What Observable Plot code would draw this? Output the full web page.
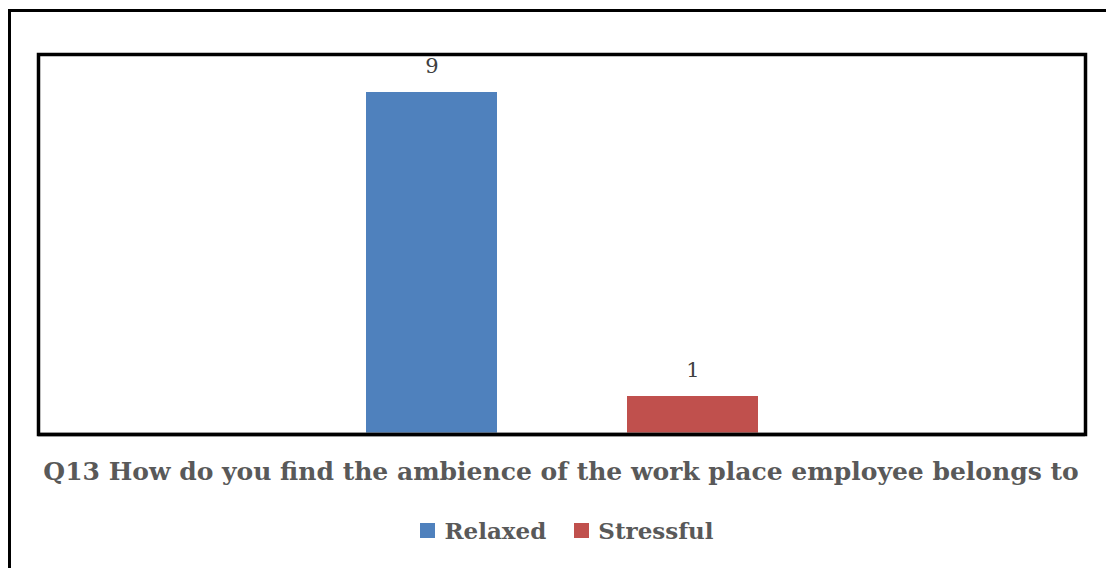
<!DOCTYPE html>
<html>
<head>
<meta charset="utf-8">
<script src="https://cdn.jsdelivr.net/npm/d3@7"></script>
<script src="https://cdn.jsdelivr.net/npm/@observablehq/plot@0.6"></script>
<style>
  html, body { margin: 0; padding: 0; background: #fff; width: 1106px; height: 568px; overflow: hidden; }
  #page { position: relative; width: 1106px; height: 568px; overflow: hidden; }
  #bt { position: absolute; left: 8px; top: 9px; width: 1098px; height: 3px; background: #000; }
  #bl { position: absolute; left: 8px; top: 9px; width: 3px; height: 559px; background: #000; }
  #chart { position: absolute; left: 0; top: 0; }
  #title { position: absolute; left: 0; top: 457px; width: 1122px; text-align: center;
           font-family: "DejaVu Serif", serif; font-weight: bold; font-size: 25px; color: #595959; white-space: nowrap; }
  #legend { position: absolute; left: 0; top: 517px; width: 1134px; display: flex; justify-content: center; gap: 28px;
            font-family: "DejaVu Serif", serif; font-weight: bold; font-size: 23px; color: #595959; }
  .item { display: flex; align-items: center; gap: 9px; }
  .sw { width: 15px; height: 15px; display: inline-block; }
</style>
</head>
<body>
<div id="page">
  <div id="bt"></div>
  <div id="bl"></div>
  <div id="chart"></div>
  <div id="title"></div>
  <div id="legend"></div>
</div>
<script>
const series = ["Relaxed", "Stressful"];
const values = [9, 1];
const colors = ["#4F81BD", "#C0504D"];
const titleText = "Q13 How do you find the ambience of the work place employee belongs to";

const data = series.map((s, i) => ({series: s, value: values[i]}));

const chart = Plot.plot({
  width: 1106,
  height: 445,
  marginLeft: 38,
  marginRight: 21,
  marginTop: 54,
  marginBottom: 11,
  x: {type: "band", domain: series, paddingInner: 0.5, paddingOuter: 1.25, axis: null},
  y: {domain: [0, 10], axis: null},
  color: {domain: series, range: colors},
  marks: [
    Plot.barY(data, {x: "series", y: "value", fill: "series"}),
    Plot.ruleY([0], {stroke: "#9a9a9a", strokeWidth: 4}),
    Plot.ruleY([0], {stroke: "#222", strokeWidth: 1.5}),
    Plot.frame({stroke: "#000", strokeWidth: 3.5}),
    Plot.text(data, {x: "series", y: "value", text: d => String(d.value), dy: -26,
      fontFamily: "DejaVu Serif, serif", fontSize: 21, fill: "#404040", lineAnchor: "middle"})
  ]
});
document.getElementById("chart").appendChild(chart);
document.getElementById("title").textContent = titleText;

const legend = document.getElementById("legend");
series.forEach((s, i) => {
  const item = document.createElement("div");
  item.className = "item";
  const sw = document.createElement("span");
  sw.className = "sw";
  sw.style.background = colors[i];
  const label = document.createElement("span");
  label.textContent = s;
  item.appendChild(sw);
  item.appendChild(label);
  legend.appendChild(item);
});
</script>
</body>
</html>
